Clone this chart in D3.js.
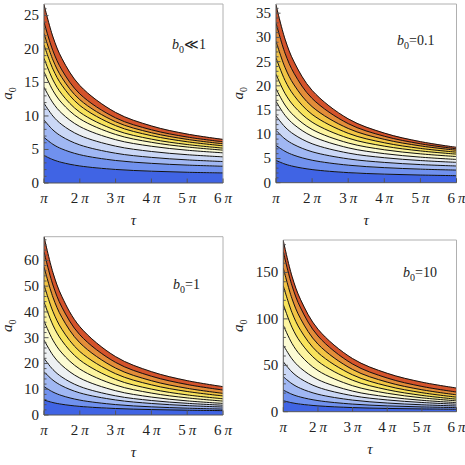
<!DOCTYPE html>
<html>
<head>
<meta charset="utf-8">
<script src="https://cdn.jsdelivr.net/npm/d3@7"></script>
<style>
  body { margin: 0; background: #fff; }
  text { font-family: "Liberation Serif", "DejaVu Serif", serif; fill: #222; }
</style>
</head>
<body>
<div id="chart"></div>
<script>
'use strict';

// tau sample points, in units of pi
const tauGrid = [1, 1.25, 1.5, 2, 3, 4, 5, 6];
const tauTicks = [1, 2, 3, 4, 5, 6];

// band colours from bottom (blue) to top (red)
const bandColors = ['#4064e4', '#7091ee', '#a0b7f3', '#cad7f6', '#edf0f2', '#fcfbd4',
  '#fcf4a0', '#f8e35c', '#f2c444', '#e38d39', '#d4532b'];

// contour lines a0(tau), one row per line, last row is the upper boundary
const levelsSmall = [
  [4.1, 3.48, 3.06, 2.54, 2.02, 1.76, 1.60, 1.5],
  [6.8, 5.77, 5.08, 4.22, 3.36, 2.93, 2.67, 2.5],
  [9.4, 7.91, 6.92, 5.68, 4.44, 3.82, 3.45, 3.2],
  [11.9, 9.98, 8.7, 7.1, 5.5, 4.7, 4.22, 3.9],
  [14.3, 11.95, 10.38, 8.42, 6.46, 5.48, 4.89, 4.5],
  [16.6, 13.79, 11.92, 9.58, 7.24, 6.07, 5.37, 4.9],
  [18.6, 15.38, 13.24, 10.56, 7.88, 6.54, 5.74, 5.2],
  [20.6, 16.99, 14.58, 11.57, 8.56, 7.06, 6.15, 5.55],
  [22.3, 18.35, 15.72, 12.43, 9.14, 7.5, 6.51, 5.85],
  [24.0, 19.72, 16.86, 13.29, 9.72, 7.94, 6.86, 6.15],
  [26.6, 21.78, 18.56, 14.54, 10.52, 8.51, 7.30, 6.5]
];
const levelsB01 = [
  [4.6, 3.84, 3.34, 2.71, 2.08, 1.77, 1.58, 1.45],
  [7.7, 6.48, 5.66, 4.64, 3.62, 3.11, 2.80, 2.6],
  [10.8, 9.04, 7.86, 6.39, 4.92, 4.19, 3.74, 3.45],
  [13.8, 11.5, 9.96, 8.04, 6.12, 5.16, 4.58, 4.2],
  [16.8, 13.92, 12.0, 9.6, 7.2, 6.0, 5.28, 4.8],
  [19.4, 16.04, 13.8, 11.0, 8.2, 6.8, 5.96, 5.4],
  [22.4, 18.44, 15.8, 12.5, 9.2, 7.55, 6.56, 5.9],
  [25.8, 21.12, 18.0, 14.1, 10.2, 8.25, 7.08, 6.3],
  [29.2, 23.8, 20.2, 15.7, 11.2, 8.95, 7.6, 6.7],
  [33.0, 26.76, 22.6, 17.4, 12.2, 9.6, 8.04, 7.0],
  [36.7, 29.64, 24.94, 19.06, 13.18, 10.24, 8.48, 7.3]
];
const levelsB1 = [
  [5.8, 4.82, 4.16, 3.34, 2.52, 2.11, 1.86, 1.7],
  [11.0, 8.91, 7.52, 5.78, 4.04, 3.17, 2.65, 2.3],
  [16.8, 13.51, 11.32, 8.58, 5.84, 4.47, 3.65, 3.1],
  [22.0, 17.63, 14.72, 11.08, 7.44, 5.62, 4.53, 3.8],
  [29.1, 23.2, 19.26, 14.34, 9.42, 6.96, 5.48, 4.5],
  [36.5, 29.04, 24.06, 17.84, 11.62, 8.51, 6.64, 5.4],
  [43.9, 34.88, 28.86, 21.34, 13.82, 10.06, 7.8, 6.3],
  [50.5, 40.16, 33.26, 24.64, 16.02, 11.71, 9.12, 7.4],
  [57.5, 45.72, 37.86, 28.04, 18.22, 13.31, 10.36, 8.4],
  [63.3, 50.44, 41.86, 31.14, 20.42, 15.06, 11.84, 9.7],
  [69.2, 55.23, 45.92, 34.28, 22.64, 16.82, 13.33, 11.0]
];
const levelsB10 = [
  [11.8, 9.59, 8.12, 6.28, 4.44, 3.52, 2.97, 2.6],
  [23.3, 18.76, 15.74, 11.96, 8.18, 6.29, 5.16, 4.4],
  [37.7, 30.14, 25.1, 18.8, 12.5, 9.35, 7.46, 6.2],
  [53.8, 42.83, 35.52, 26.38, 17.24, 12.67, 9.93, 8.1],
  [71.8, 56.92, 47.0, 34.6, 22.2, 16.0, 12.28, 9.8],
  [93.2, 73.64, 60.6, 44.3, 28.0, 19.85, 14.96, 11.7],
  [115.5, 91.02, 74.7, 54.3, 33.9, 23.7, 17.58, 13.5],
  [135.7, 106.9, 87.7, 63.7, 39.7, 27.7, 20.5, 15.7],
  [154.7, 121.94, 100.1, 72.8, 45.5, 31.85, 23.66, 18.2],
  [172.2, 135.96, 111.8, 81.6, 51.4, 36.3, 27.24, 21.2],
  [184, 145.96, 120.6, 88.9, 57.2, 41.35, 31.84, 25.5]
];

const yTicksSmall = [0, 5, 10, 15, 20, 25];
const yTicksB01 = [0, 5, 10, 15, 20, 25, 30, 35];
const yTicksB1 = [0, 10, 20, 30, 40, 50, 60];
const yTicksB10 = [0, 50, 100, 150];

const labelsB0 = ['\u226a1', '=0.1', '=1', '=10'];


class ContourPanel {
  constructor(options) {
    this.svg = options.svg;
    this.id = options.id;
    this.levels = options.levels;
    this.yMax = options.yMax;
    this.yTicks = options.yTicks;
    this.yMinorStep = options.yMinorStep;
    this.box = options.box;        // plot rectangle
    this.label = options.label;
    this.labelPos = options.labelPos;
    this.yTitleOffset = options.yTitleOffset;
  }

  draw() {
    this.g = this.svg.append('g');
    this.createScales();
    this.drawBands();
    this.drawFrame();
    this.drawTicks();
    this.drawTitles();
  }

  createScales() {
    let b = this.box;
    this.xScale = d3.scaleLinear().domain([1, 6]).range([b.left, b.right]);
    this.yScale = d3.scaleLinear().domain([0, this.yMax]).range([b.bottom, b.top]);
  }

  drawBands() {
    let b = this.box;
    this.svg.append('clipPath').attr('id', this.id)
      .append('rect')
        .attr('x', b.left).attr('y', b.top)
        .attr('width', b.right - b.left).attr('height', b.bottom - b.top);

    let plot = this.g.append('g').attr('clip-path', `url(#${this.id})`);
    let zero = tauGrid.map(() => 0);
    let curve = d3.curveCatmullRom.alpha(0.5);

    let area = d3.area()
      .x((d, i) => this.xScale(tauGrid[i]))
      .y0((d) => this.yScale(d[0]))
      .y1((d) => this.yScale(d[1]))
      .curve(curve);

    let bands = this.levels.map((row, k) => {
      let lower = k == 0 ? zero : this.levels[k - 1];
      return row.map((v, i) => [lower[i], v]);
    });

    plot.selectAll('.band')
      .data(bands)
      .enter().append('path')
        .attr('class', 'band')
        .attr('d', area)
        .attr('fill', (d, k) => bandColors[k])
        .attr('stroke', (d, k) => bandColors[k])
        .attr('stroke-width', 0.5);

    let line = d3.line()
      .x((d, i) => this.xScale(tauGrid[i]))
      .y((d) => this.yScale(d))
      .curve(curve);

    plot.selectAll('.contour')
      .data(this.levels)
      .enter().append('path')
        .attr('class', 'contour')
        .attr('d', line)
        .attr('fill', 'none')
        .attr('stroke', '#111')
        .attr('stroke-width', 1);
  }

  drawFrame() {
    let b = this.box;
    this.g.append('path')
      .attr('d', `M${b.left},${b.top}H${b.right}V${b.bottom}`)
      .attr('fill', 'none').attr('stroke', '#b0b0b0').attr('stroke-width', 1);
    this.g.append('path')
      .attr('d', `M${b.left},${b.top}V${b.bottom}H${b.right}`)
      .attr('fill', 'none').attr('stroke', '#555').attr('stroke-width', 1);
  }

  drawTicks() {
    let b = this.box;
    let minor = d3.range(0, this.yMax, this.yMinorStep)
      .filter((v) => !this.yTicks.includes(v));

    this.g.selectAll('.yminor')
      .data(minor)
      .enter().append('line')
        .attr('x1', b.left).attr('x2', b.left + 2.5)
        .attr('y1', (d) => this.yScale(d)).attr('y2', (d) => this.yScale(d))
        .attr('stroke', '#555');

    this.g.selectAll('.ymajor')
      .data(this.yTicks)
      .enter().append('line')
        .attr('x1', b.left).attr('x2', b.left + 4.5)
        .attr('y1', (d) => this.yScale(d)).attr('y2', (d) => this.yScale(d))
        .attr('stroke', '#555');

    this.g.selectAll('.ylabel')
      .data(this.yTicks)
      .enter().append('text')
        .attr('x', b.left - 5)
        .attr('y', (d) => this.yScale(d) + 5)
        .attr('text-anchor', 'end')
        .style('font-size', '15px')
        .text((d) => d);

    this.g.selectAll('.xmajor')
      .data(tauTicks)
      .enter().append('line')
        .attr('x1', (d) => this.xScale(d)).attr('x2', (d) => this.xScale(d))
        .attr('y1', b.bottom).attr('y2', b.bottom - 4.5)
        .attr('stroke', '#555');

    let xl = this.g.selectAll('.xlabel')
      .data(tauTicks)
      .enter().append('text')
        .attr('x', (d) => this.xScale(d))
        .attr('y', b.bottom + 20)
        .attr('text-anchor', 'middle')
        .style('font-size', '15px');
    xl.append('tspan').text((d) => d == 1 ? '' : d + '\u2009');
    xl.append('tspan').style('font-style', 'italic').text('\u03c0');
  }

  drawTitles() {
    let b = this.box;
    let cx = (b.left + b.right) / 2;
    let cy = (b.top + b.bottom) / 2;

    this.g.append('text')
      .attr('x', cx).attr('y', b.bottom + 42)
      .attr('text-anchor', 'middle')
      .style('font-size', '15px').style('font-style', 'italic')
      .text('\u03c4');

    let yt = this.g.append('text')
      .attr('transform', `translate(${b.left - this.yTitleOffset},${cy}) rotate(-90)`)
      .attr('text-anchor', 'middle')
      .style('font-size', '15px');
    yt.append('tspan').style('font-style', 'italic').text('a');
    yt.append('tspan').attr('dy', 4).style('font-size', '10px').text('0');

    let lb = this.g.append('text')
      .attr('x', this.labelPos[0]).attr('y', this.labelPos[1])
      .style('font-size', '14px');
    lb.append('tspan').style('font-style', 'italic').text('b');
    lb.append('tspan').attr('dy', 4).style('font-size', '10px').text('0');
    lb.append('tspan').attr('dy', -4).text(this.label);
  }
}


const svg = d3.select('#chart').append('svg')
  .attr('width', 465)
  .attr('height', 465)
  .attr('font-family', 'Liberation Serif, DejaVu Serif, serif');

const panels = [
  { id: 'c1', levels: levelsSmall, yMax: 26.7, yTicks: yTicksSmall, yMinorStep: 1,
    box: { left: 44, right: 223, top: 4, bottom: 183 }, label: labelsB0[0],
    labelPos: [172, 49], yTitleOffset: 32 },
  { id: 'c2', levels: levelsB01, yMax: 36.9, yTicks: yTicksB01, yMinorStep: 1,
    box: { left: 276, right: 456.5, top: 4, bottom: 182.7 }, label: labelsB0[1],
    labelPos: [397, 45], yTitleOffset: 33 },
  { id: 'c3', levels: levelsB1, yMax: 69.2, yTicks: yTicksB1, yMinorStep: 2,
    box: { left: 44, right: 223, top: 236.7, bottom: 415 }, label: labelsB0[2],
    labelPos: [173, 289], yTitleOffset: 32 },
  { id: 'c4', levels: levelsB10, yMax: 185, yTicks: yTicksB10, yMinorStep: 10,
    box: { left: 283.3, right: 456.5, top: 240, bottom: 411.7 }, label: labelsB0[3],
    labelPos: [403, 277], yTitleOffset: 40 }
];

panels.forEach((p) => {
  p.svg = svg;
  new ContourPanel(p).draw();
});
</script>
</body>
</html>
